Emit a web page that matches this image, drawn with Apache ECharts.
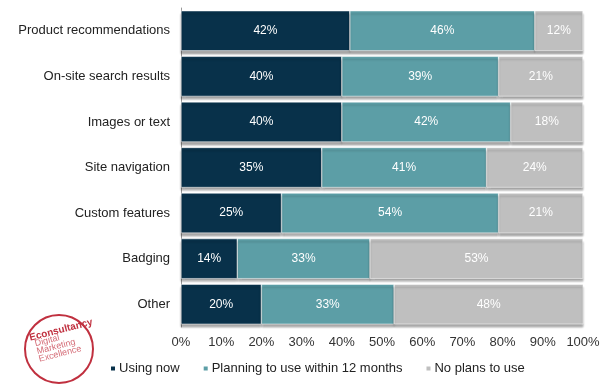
<!DOCTYPE html>
<html><head><meta charset="utf-8">
<script src="https://cdn.jsdelivr.net/npm/echarts@6/dist/echarts.min.js"></script>
<style>html,body{margin:0;padding:0;background:#fff}#c{width:615px;height:388px}</style>
</head><body><div id="c"></div>
<script>
const categories = ["Product recommendations","On-site search results","Images or text","Site navigation","Custom features","Badging","Other"];
const usingNow = [42,40,40,35,25,14,20];
const planning = [46,39,42,41,54,33,33];
const noPlans = [12,21,18,24,21,53,48];
const seriesNames = ["Using now","Planning to use within 12 months","No plans to use"];
const colors = ["#08314a","#5c9ea6","#bfbfbf"];
const font = "Liberation Sans, Arial, sans-serif";

const chart = echarts.init(document.getElementById('c'));
function mk(name, data, color){
  return {
    name, type:'bar', stack:'total', data, barWidth:'88%',
    itemStyle:{color, borderColor:'#fff', borderWidth:0.5, shadowColor:'rgba(0,0,0,0.35)', shadowOffsetY:3, shadowBlur:2},
    label:{show:true, position:'inside', formatter:'{c}%', color:'#fff', fontFamily:font, fontSize:12}
  };
}
chart.setOption({
  animation:false,
  color:colors,
  grid:{left:181, right:32, top:8, bottom:61},
  xAxis:{type:'value', min:0, max:100, interval:10,
    axisLabel:{formatter:'{value}%', color:'#333', fontFamily:font, fontSize:13, margin:9},
    splitLine:{show:false}, axisLine:{show:false}, axisTick:{show:false}},
  yAxis:{type:'category', data:categories, inverse:true,
    axisLabel:{color:'#222', fontFamily:font, fontSize:13, margin:11},
    axisLine:{show:true, lineStyle:{color:'#999', width:1}}, axisTick:{show:false}},
  legend:{bottom:8, left:104, itemWidth:6, itemHeight:6, itemGap:22, icon:'rect',
    textStyle:{color:'#222', fontFamily:font, fontSize:13, padding:[0,0,0,-2]},
    data:seriesNames},
  series:[mk(seriesNames[0],usingNow,colors[0]), mk(seriesNames[1],planning,colors[1]), mk(seriesNames[2],noPlans,colors[2])],
  graphic:[
    {type:'circle', shape:{cx:59, cy:349, r:34}, style:{fill:'#fff', stroke:'#c0303f', lineWidth:2}},
    {type:'text', x:61, y:330, rotation:0.25,
      style:{text:'Econsultancy', x:0, y:0, align:'center', verticalAlign:'middle', fill:'#c0303f', font:'bold 10px Liberation Sans, Arial'}},
    {type:'text', x:34, y:340, rotation:0.25,
      style:{text:'Digital\nMarketing\nExcellence', x:0, y:0, align:'left', verticalAlign:'top', fill:'#d46a75', font:'9px Liberation Sans, Arial', lineHeight:8}}
  ]
});
</script></body></html>
